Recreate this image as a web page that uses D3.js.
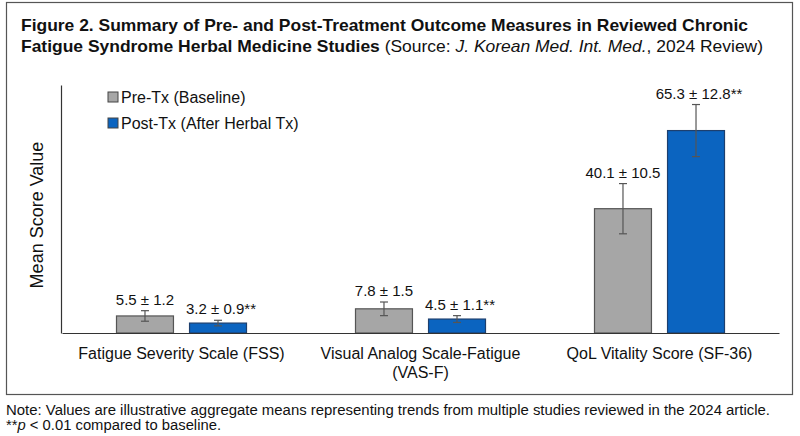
<!DOCTYPE html>
<html>
<head>
<meta charset="utf-8">
<script src="https://cdn.jsdelivr.net/npm/d3@7"></script>
<style>
  body { margin: 0; background: #ffffff; }
  svg { display: block; font-family: "Liberation Sans", Arial, sans-serif; }
</style>
</head>
<body>
<div id="chart"></div>
<script>
// Data
var categories = ["Fatigue Severity Scale (FSS)", "Visual Analog Scale-Fatigue (VAS-F)", "QoL Vitality Score (SF-36)"];
var series = ["Pre-Tx (Baseline)", "Post-Tx (After Herbal Tx)"];
var preMeans = [5.5, 7.8, 40.1];
var postMeans = [3.2, 4.5, 65.3];
var preSD = [1.2, 1.5, 10.5];     // as printed in labels
var postSD = [0.9, 1.1, 12.8];
var preErr = [1.7, 2.2, 8.1];     // half-length of the drawn error bars
var postErr = [0.9, 1.1, 8.4];
var postSig = [true, true, true];
var yMax = 80;

function init() {
  var w = 800;
  var h = 436;

  var svg = d3.select("#chart")
    .append("svg")
    .attr("width", w)
    .attr("height", h);

  // outer frame
  svg.append("rect")
    .attr("x", 6.5).attr("y", 2.5)
    .attr("width", 786).attr("height", 392)
    .attr("fill", "#fff")
    .attr("stroke", "#555")
    .attr("stroke-width", 1.2);

  // title
  svg.append("text")
    .attr("x", 21).attr("y", 31)
    .attr("font-size", 17).attr("font-weight", "bold").attr("fill", "#111")
    .attr("textLength", 727).attr("lengthAdjust", "spacingAndGlyphs")
    .text("Figure 2. Summary of Pre- and Post-Treatment Outcome Measures in Reviewed Chronic");

  var t2 = svg.append("text")
    .attr("x", 21).attr("y", 52)
    .attr("font-size", 17).attr("fill", "#111")
    .attr("textLength", 742).attr("lengthAdjust", "spacingAndGlyphs");
  t2.append("tspan").attr("font-weight", "bold").text("Fatigue Syndrome Herbal Medicine Studies");
  t2.append("tspan").text(" (Source: ");
  t2.append("tspan").attr("font-style", "italic").text("J. Korean Med. Int. Med.");
  t2.append("tspan").text(", 2024 Review)");

  // scales
  var x0 = d3.scaleBand()
    .domain(categories)
    .range([62, 779]);

  var x1 = d3.scaleBand()
    .domain(series)
    .range([0, 130])
    .paddingInner(0.22);

  var y = d3.scaleLinear()
    .domain([0, yMax])
    .range([333, 85]);

  var color = d3.scaleOrdinal()
    .domain(series)
    .range(["#a6a6a6", "#0b64c0"]);
  var strokeColor = d3.scaleOrdinal()
    .domain(series)
    .range(["#555555", "#1d3f6e"]);

  var rows = [];
  categories.forEach(function(c, i) {
    rows.push({ cat: c, s: series[0], v: preMeans[i], sd: preSD[i], err: preErr[i], sig: false });
    rows.push({ cat: c, s: series[1], v: postMeans[i], sd: postSD[i], err: postErr[i], sig: postSig[i] });
  });

  function barX(d) {
    return x0(d.cat) + x0.bandwidth() / 2 - 65 + x1(d.s);
  }

  // bars
  svg.selectAll("rect.bar")
    .data(rows)
    .enter()
    .append("rect")
    .attr("class", "bar")
    .attr("x", barX)
    .attr("y", function(d) { return y(d.v); })
    .attr("width", x1.bandwidth())
    .attr("height", function(d) { return y(0) - y(d.v); })
    .attr("fill", function(d) { return color(d.s); })
    .attr("stroke", function(d) { return strokeColor(d.s); })
    .attr("stroke-width", 1.2);

  // error bars
  var eb = svg.selectAll("g.err")
    .data(rows)
    .enter()
    .append("g")
    .attr("class", "err")
    .attr("stroke", "#555")
    .attr("stroke-width", 1.2);

  eb.append("line")
    .attr("x1", function(d) { return barX(d) + x1.bandwidth() / 2; })
    .attr("x2", function(d) { return barX(d) + x1.bandwidth() / 2; })
    .attr("y1", function(d) { return y(d.v + d.err); })
    .attr("y2", function(d) { return y(d.v - d.err); });

  [1, -1].forEach(function(sgn) {
    eb.append("line")
      .attr("x1", function(d) { return barX(d) + x1.bandwidth() / 2 - 4; })
      .attr("x2", function(d) { return barX(d) + x1.bandwidth() / 2 + 4; })
      .attr("y1", function(d) { return y(d.v + sgn * d.err); })
      .attr("y2", function(d) { return y(d.v + sgn * d.err); });
  });

  // value labels
  svg.selectAll("text.val")
    .data(rows)
    .enter()
    .append("text")
    .attr("class", "val")
    .attr("x", function(d) { return barX(d) + x1.bandwidth() / 2 + (d.sig ? 3 : 0); })
    .attr("y", function(d) { return y(d.v + d.err) - 6; })
    .attr("text-anchor", "middle")
    .attr("font-size", 15)
    .attr("fill", "#111")
    .text(function(d) {
      return d3.format(".1f")(d.v) + " \u00b1 " + d3.format(".1f")(d.sd) + (d.sig ? "**" : "");
    });

  // axes (lines only)
  var xAxis = d3.axisBottom(x0).tickSize(0).tickSizeOuter(0).tickFormat("");
  var yAxis = d3.axisLeft(y).tickValues([]).tickSizeOuter(0);

  svg.append("g")
    .attr("transform", "translate(0,333)")
    .call(xAxis)
    .select(".domain").attr("stroke", "#333").attr("stroke-width", 1.2);

  svg.append("g")
    .attr("transform", "translate(61,0)")
    .call(yAxis)
    .select(".domain").attr("stroke", "#333").attr("stroke-width", 1.2);

  // category labels (split before the bracket for the long one)
  svg.selectAll("text.cat")
    .data(categories)
    .enter()
    .append("text")
    .attr("class", "cat")
    .attr("text-anchor", "middle")
    .attr("font-size", 16)
    .attr("fill", "#111")
    .each(function(d) {
      var lines = d.length > 30 ? [d.slice(0, d.indexOf(" (")), d.slice(d.indexOf(" (") + 1)] : [d];
      var el = d3.select(this);
      lines.forEach(function(l, i) {
        el.append("tspan")
          .attr("x", x0(d) + x0.bandwidth() / 2)
          .attr("y", 359 + i * 19)
          .text(l);
      });
    });

  // y-axis label
  svg.append("text")
    .attr("text-anchor", "middle")
    .attr("transform", "rotate(-90)")
    .attr("x", -215)
    .attr("y", 43)
    .attr("font-size", 18)
    .attr("fill", "#111")
    .text("Mean Score Value");

  // legend
  var lg = svg.selectAll("g.leg")
    .data(series)
    .enter()
    .append("g")
    .attr("class", "leg")
    .attr("transform", function(d, i) { return "translate(108," + (97 + i * 26) + ")"; });

  lg.append("rect")
    .attr("x", 0).attr("y", -5)
    .attr("width", 10).attr("height", 10)
    .attr("fill", function(d) { return color(d); })
    .attr("stroke", "#444")
    .attr("stroke-width", 1);

  lg.append("text")
    .attr("x", 13).attr("y", 5.5)
    .attr("font-size", 16)
    .attr("fill", "#111")
    .text(function(d) { return d; });

  // footnote
  svg.append("text")
    .attr("x", 6).attr("y", 415)
    .attr("font-size", 14).attr("fill", "#111")
    .attr("textLength", 764).attr("lengthAdjust", "spacingAndGlyphs")
    .text("Note: Values are illustrative aggregate means representing trends from multiple studies reviewed in the 2024 article.");

  var n2 = svg.append("text")
    .attr("x", 6).attr("y", 430)
    .attr("font-size", 14).attr("fill", "#111")
    .attr("textLength", 215).attr("lengthAdjust", "spacingAndGlyphs");
  n2.append("tspan").text("**");
  n2.append("tspan").attr("font-style", "italic").text("p");
  n2.append("tspan").text(" < 0.01 compared to baseline.");
}

window.onload = init;
</script>
</body>
</html>
